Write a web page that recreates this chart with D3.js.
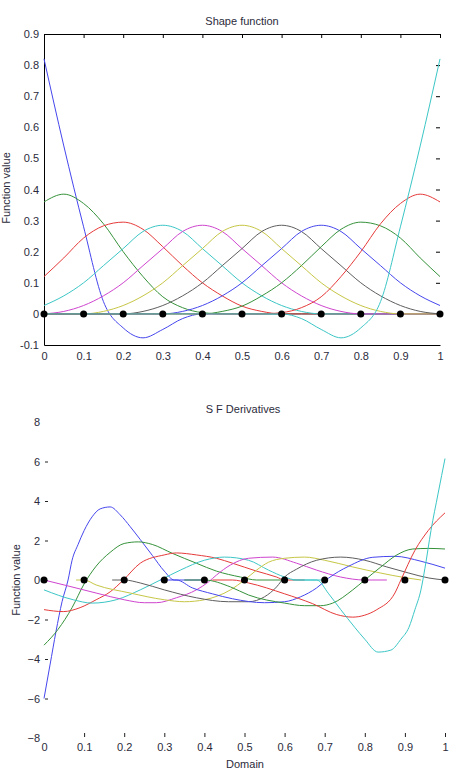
<!DOCTYPE html>
<html>
<head>
<meta charset="utf-8">
<script src="https://cdn.jsdelivr.net/npm/d3@7"></script>
<style>
  body { margin: 0; background: #fff; }
  text { font-family: "Liberation Sans", Arial, sans-serif; fill: #2b2b3b; }
</style>
</head>
<body>
<svg width="457" height="775"></svg>
<script>
// domein punten voor de shape functions
const xs = [0, 0.05, 0.1, 0.15, 0.2, 0.25, 0.3, 0.35, 0.4, 0.45, 0.5, 0.55, 0.6, 0.65, 0.7, 0.75, 0.8, 0.85, 0.9, 0.95, 1]
const nodes = [0, 0.1, 0.2, 0.3, 0.4, 0.5, 0.6, 0.7, 0.8, 0.9, 1]

const sfBlue1 = [0.82, 0.54, 0.28, 0.04, -0.045, -0.077, -0.05, -0.015, 0, 0, 0, 0, 0, 0, 0, 0, 0, 0, 0, 0, 0]
const sfGreen1 = [0.36, 0.385, 0.355, 0.29, 0.2, 0.12, 0.055, 0.02, 0.004, 0, 0, 0, 0, 0, 0, 0, 0, 0, 0, 0, 0]
const sfRed1 = [0.12, 0.18, 0.244, 0.283, 0.295, 0.272, 0.216, 0.155, 0.1, 0.058, 0.025, 0.008, 0, 0, 0, 0, 0, 0, 0, 0, 0]
const sfCyan1 = [0.027, 0.058, 0.1, 0.155, 0.21, 0.265, 0.285, 0.265, 0.21, 0.155, 0.1, 0.058, 0.027, 0.008, 0, 0, 0, 0, 0, 0, 0]
const sfMagenta = [0, 0.008, 0.027, 0.058, 0.1, 0.155, 0.21, 0.265, 0.285, 0.265, 0.21, 0.155, 0.1, 0.058, 0.027, 0.008, 0, 0, 0, 0, 0]
const sfYellow = [0, 0, 0, 0.008, 0.027, 0.058, 0.1, 0.155, 0.21, 0.265, 0.285, 0.265, 0.21, 0.155, 0.1, 0.058, 0.027, 0.008, 0, 0, 0]
const sfGray = [0, 0, 0, 0, 0, 0.008, 0.027, 0.058, 0.1, 0.155, 0.21, 0.265, 0.285, 0.265, 0.21, 0.155, 0.1, 0.058, 0.027, 0.008, 0]
const sfBlue2 = [0, 0, 0, 0, 0, 0, 0, 0.008, 0.027, 0.058, 0.1, 0.155, 0.21, 0.265, 0.285, 0.265, 0.21, 0.155, 0.1, 0.058, 0.027]
const sfGreen2 = [0, 0, 0, 0, 0, 0, 0, 0, 0, 0.008, 0.025, 0.058, 0.1, 0.155, 0.216, 0.272, 0.295, 0.283, 0.244, 0.18, 0.12]
const sfRed2 = [0, 0, 0, 0, 0, 0, 0, 0, 0, 0, 0, 0, 0.004, 0.02, 0.055, 0.12, 0.2, 0.29, 0.355, 0.385, 0.36]
const sfCyan2 = [0, 0, 0, 0, 0, 0, 0, 0, 0, 0, 0, 0, 0, -0.015, -0.05, -0.077, -0.045, 0.04, 0.28, 0.54, 0.82]

// afgeleiden als [x, y] paren
const dBlue1 = [[0, -6.0], [0.015, -4.3], [0.03, -2.6], [0.045, -1.1], [0.06, 0], [0.07, 1.0], [0.085, 1.8], [0.1, 2.5], [0.12, 3.2], [0.14, 3.6], [0.165, 3.7], [0.19, 3.3], [0.215, 2.7], [0.24, 2.05], [0.27, 1.25], [0.3, 0.45], [0.325, 0], [0.4, 0]]
const dGreen1 = [[0, -3.3], [0.035, -2.5], [0.07, -1.4], [0.1, -0.2], [0.13, 0.7], [0.165, 1.4], [0.2, 1.85], [0.235, 1.93], [0.27, 1.8], [0.32, 1.35], [0.38, 0.85], [0.43, 0.45], [0.49, 0.15], [0.53, 0], [0.6, 0]]
const dRed1 = [[0, -1.5], [0.048, -1.6], [0.09, -1.4], [0.13, -1.0], [0.165, -0.6], [0.198, 0], [0.24, 0.85], [0.3, 1.27], [0.33, 1.37], [0.38, 1.27], [0.43, 1.1], [0.47, 0.85], [0.53, 0.45], [0.58, 0.15], [0.6, 0], [0.65, 0]]
const dCyan1 = [[0, -0.5], [0.073, -1.0], [0.12, -1.17], [0.18, -1.0], [0.24, -0.5], [0.29, 0], [0.34, 0.5], [0.4, 1.0], [0.45, 1.16], [0.51, 1.0], [0.56, 0.5], [0.6, 0.15], [0.63, 0], [0.7, 0]]
const dMagenta = [[0, 0], [0.05, -0.25], [0.13, -0.66], [0.2, -1.0], [0.25, -1.15], [0.28, -1.15], [0.33, -0.9], [0.38, -0.5], [0.41, -0.1], [0.43, 0.25], [0.465, 0.76], [0.51, 1.1], [0.57, 1.16], [0.63, 0.85], [0.68, 0.5], [0.74, 0.15], [0.8, 0], [0.855, 0]]
const dYellow = [[0.08, 0], [0.1, 0], [0.13, -0.25], [0.215, -0.66], [0.3, -1.0], [0.35, -1.1], [0.4, -1.0], [0.465, -0.5], [0.5, 0], [0.53, 0.5], [0.56, 0.9], [0.6, 1.1], [0.65, 1.16], [0.7, 1.0], [0.77, 0.66], [0.84, 0.35], [0.9, 0.12], [0.94, 0]]
const dGray = [[0.17, 0], [0.2, 0], [0.24, -0.15], [0.3, -0.5], [0.38, -0.9], [0.46, -1.1], [0.51, -1.1], [0.55, -0.85], [0.58, -0.35], [0.6, 0.15], [0.63, 0.55], [0.68, 1.0], [0.74, 1.16], [0.8, 1.0], [0.855, 0.66], [0.91, 0.35], [0.96, 0.1], [1, 0]]
const dBlue2 = [[0.29, 0], [0.33, 0], [0.37, -0.4], [0.42, -0.7], [0.47, -0.95], [0.55, -1.15], [0.6, -1.1], [0.64, -0.85], [0.68, -0.4], [0.71, 0.1], [0.76, 0.7], [0.82, 1.15], [0.875, 1.2], [0.94, 0.95], [1, 0.6]]
const dGreen2 = [[0.35, 0], [0.4, 0], [0.465, -0.35], [0.51, -0.76], [0.6, -1.17], [0.65, -1.3], [0.69, -1.3], [0.72, -1.17], [0.77, -0.5], [0.8, 0], [0.84, 0.66], [0.88, 1.27], [0.92, 1.57], [0.96, 1.6], [1, 1.57]]
const dRed2 = [[0.42, 0], [0.47, 0], [0.51, -0.15], [0.6, -0.7], [0.67, -1.2], [0.73, -1.75], [0.77, -1.88], [0.8, -1.78], [0.83, -1.5], [0.875, -0.66], [0.89, 0], [0.925, 1.5], [0.958, 2.5], [1, 3.4]]
const dCyan2 = [[0.62, 0], [0.68, 0], [0.71, -0.7], [0.74, -1.5], [0.775, -2.4], [0.8, -3.0], [0.833, -3.65], [0.865, -3.55], [0.89, -3.0], [0.91, -2.4], [0.925, -1.5], [0.94, -0.5], [0.95, 0.6], [0.965, 2.5], [0.983, 4.4], [1, 6.15]]

const colors = ['#4646ee', '#35923a', '#e63a3a', '#3cc6c6', '#cf45cf', '#c6c646', '#5e5e5e', '#4646ee', '#35923a', '#e63a3a', '#3cc6c6']
const shapeSeries = [sfBlue1, sfGreen1, sfRed1, sfCyan1, sfMagenta, sfYellow, sfGray, sfBlue2, sfGreen2, sfRed2, sfCyan2]
const derivSeries = [dBlue1, dGreen1, dRed1, dCyan1, dMagenta, dYellow, dGray, dBlue2, dGreen2, dRed2, dCyan2]

const xTicks = [0, 0.1, 0.2, 0.3, 0.4, 0.5, 0.6, 0.7, 0.8, 0.9, 1]
const yTicksTop = [-0.1, 0, 0.1, 0.2, 0.3, 0.4, 0.5, 0.6, 0.7, 0.8, 0.9]
const yTicksBottom = [-8, -6, -4, -2, 0, 2, 4, 6, 8]

const svg = d3.select('svg')
const width = +svg.attr('width')
const height = +svg.attr('height')

const fmt = d => String(d)

// bovenste grafiek
const renderTop = () => {
    const x = d3.scaleLinear().domain([0, 1]).range([44, 440])
    const y = d3.scaleLinear().domain([-0.1, 0.9]).range([345, 34])

    const g = svg.append('g')

    // assen
    g.append('g').attr('transform', 'translate(44,0)')
        .call(d3.axisLeft(y).tickValues(yTicksTop).tickSize(0).tickSizeOuter(0).tickPadding(5).tickFormat(fmt))
    g.append('g').attr('transform', 'translate(0,345)')
        .call(d3.axisBottom(x).tickValues(xTicks).tickSize(0).tickSizeOuter(0).tickPadding(7).tickFormat(fmt))
    g.append('g').attr('transform', 'translate(0,34)')
        .call(d3.axisTop(x).tickValues(xTicks).tickSize(-4).tickSizeOuter(0).tickFormat(''))
    const right = g.append('g').attr('transform', 'translate(440,0)')
        .call(d3.axisRight(y).tickValues(yTicksTop).tickSize(-4).tickSizeOuter(0).tickFormat(''))
    right.select('.domain').remove()
    g.selectAll('.domain').attr('stroke', '#000')
    g.selectAll('.tick line').attr('stroke', '#000')
    g.selectAll('.tick text').attr('font-size', 11).attr('fill', '#2b2b3b')

    const line = d3.line()
        .x((d, i) => x(xs[i]))
        .y(d => y(d))
        .curve(d3.curveMonotoneX)

    g.selectAll('path.sf').data(shapeSeries)
        .enter()
        .append('path')
            .attr('class', 'sf')
            .attr('d', d => line(d))
            .attr('fill', 'none')
            .attr('stroke', (d, i) => colors[i])
            .attr('stroke-width', 1)

    g.selectAll('circle').data(nodes)
        .enter()
        .append('circle')
            .attr('cx', d => x(d))
            .attr('cy', y(0))
            .attr('r', 3.5)
            .attr('fill', '#000')

    svg.append('text').attr('x', 242).attr('y', 25).attr('text-anchor', 'middle')
        .attr('font-size', 11).text('Shape function')
    svg.append('text').attr('transform', 'translate(10,188) rotate(-90)').attr('text-anchor', 'middle')
        .attr('font-size', 11).text('Function value')
}

// onderste grafiek
const renderBottom = () => {
    const x = d3.scaleLinear().domain([0, 1]).range([44, 445])
    const y = d3.scaleLinear().domain([-8, 8]).range([738, 422])

    const g = svg.append('g')

    const left = g.append('g').attr('transform', 'translate(48,0)')
        .call(d3.axisLeft(y).tickValues(yTicksBottom).tickSize(3).tickSizeOuter(0).tickPadding(5))
    left.select('.domain').remove()
    left.selectAll('.tick').filter(d => d === 8 || d === -8).select('line').remove()

    const bottom = g.append('g').attr('transform', 'translate(0,733)')
        .call(d3.axisBottom(x).tickValues(xTicks).tickSize(4).tickSizeOuter(0).tickPadding(6).tickFormat(fmt))
    bottom.select('.domain').remove()
    bottom.selectAll('.tick').filter(d => d === 0).select('line').remove()

    g.selectAll('.tick line').attr('stroke', '#222')
    g.selectAll('.tick text').attr('font-size', 11).attr('fill', '#2b2b3b')

    const line = d3.line()
        .x(d => x(d[0]))
        .y(d => y(d[1]))
        .curve(d3.curveMonotoneX)

    g.selectAll('path.df').data(derivSeries)
        .enter()
        .append('path')
            .attr('class', 'df')
            .attr('d', d => line(d))
            .attr('fill', 'none')
            .attr('stroke', (d, i) => colors[i])
            .attr('stroke-width', 1)

    g.selectAll('circle').data(nodes)
        .enter()
        .append('circle')
            .attr('cx', d => x(d))
            .attr('cy', y(0))
            .attr('r', 3.5)
            .attr('fill', '#000')

    svg.append('text').attr('x', 243).attr('y', 413).attr('text-anchor', 'middle')
        .attr('font-size', 11).text('S F Derivatives')
    svg.append('text').attr('x', 245).attr('y', 768).attr('text-anchor', 'middle')
        .attr('font-size', 11).text('Domain')
    svg.append('text').attr('transform', 'translate(20,580) rotate(-90)').attr('text-anchor', 'middle')
        .attr('font-size', 11).text('Function value')
}

renderTop()
renderBottom()
</script>
</body>
</html>
